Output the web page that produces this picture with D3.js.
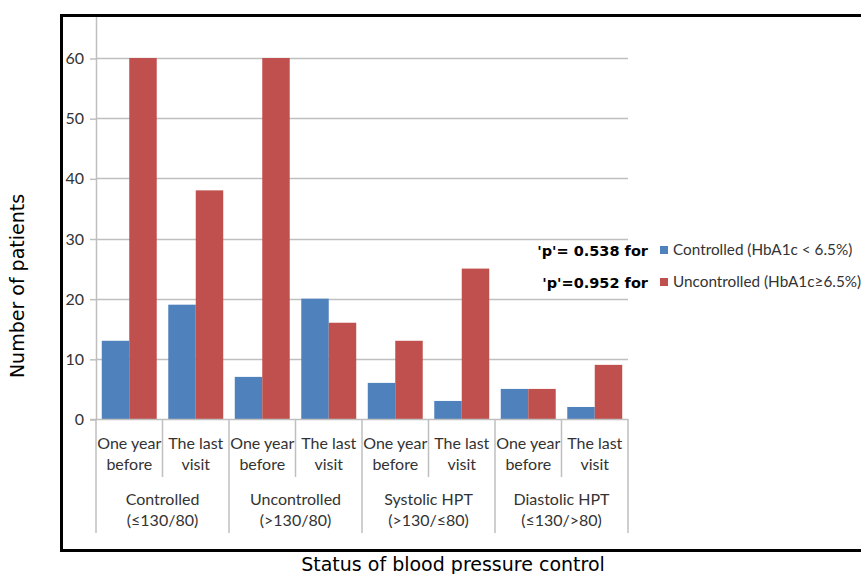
<!DOCTYPE html>
<html>
<head>
<meta charset="utf-8">
<script src="https://cdn.jsdelivr.net/npm/d3@7/dist/d3.min.js"></script>
<style>
  html, body { margin: 0; padding: 0; background: #fff; }
  svg { display: block; }
</style>
</head>
<body>
<svg id="chart" width="861" height="574"></svg>
<script>
// Patients by blood pressure status, at two time points
const groups = ["Controlled\n(≤130/80)", "Uncontrolled\n(>130/80)", "Systolic HPT\n(>130/≤80)", "Diastolic HPT\n(≤130/>80)"];
const periods = ["One year\nbefore", "The last\nvisit"];
const controlledHbA1c   = [13, 19, 7, 20, 6, 3, 5, 2];
const uncontrolledHbA1c = [60, 38, 60, 16, 13, 25, 5, 9];
const yTicks = [0, 10, 20, 30, 40, 50, 60];
const seriesNames = ["Controlled (HbA1c < 6.5%)", "Uncontrolled (HbA1c≥6.5%)"];
const pLabels = ["'p'= 0.538 for", "'p'=0.952 for"];
const colors = ["#4F81BD", "#C0504D"];

const svg = d3.select("#chart");
const plotLeft = 96, plotRight = 628, plotBottom = 419, plotTop = 17;

const slots = [];
groups.forEach((g, gi) => periods.forEach((p, pi) => slots.push({ key: gi + "-" + pi, g: gi, p: pi })));

const x = d3.scaleBand().domain(slots.map(d => d.key)).range([plotLeft, plotRight]).paddingInner(0).paddingOuter(0);
const y = d3.scaleLinear().domain([0, 60]).range([plotBottom, 58]);
const yMax = y.invert(plotTop);
y.domain([0, yMax]).range([plotBottom, plotTop]);
const inner = d3.scaleBand().domain([0, 1]).range([0, x.bandwidth()]).paddingInner(0).paddingOuter(0.21);

// Frame around the figure
svg.append("path")
  .attr("d", `M861,15.5 H61.5 V550.5 H861`)
  .attr("fill", "none").attr("stroke", "#000").attr("stroke-width", 3);

// Horizontal gridlines
svg.append("g").selectAll("line").data(yTicks.filter(t => t > 0)).join("line")
  .attr("x1", plotLeft).attr("x2", plotRight)
  .attr("y1", d => Math.round(y(d)) + 0.5).attr("y2", d => Math.round(y(d)) + 0.5)
  .attr("stroke", "#BFBFBF").attr("stroke-width", 1.5);

// Y axis
const yAxis = svg.append("g").attr("transform", `translate(${plotLeft},0)`)
  .call(d3.axisLeft(y).tickValues(yTicks).tickSize(6).tickPadding(4));
yAxis.select(".domain").attr("stroke", "#BFBFBF").attr("stroke-width", 1.5)
  .attr("d", `M0.5,${plotTop}V${plotBottom}`);
yAxis.selectAll(".tick line").attr("stroke", "#BFBFBF").attr("stroke-width", 1.5)
  .attr("transform", "translate(0,0.5)");
yAxis.selectAll(".tick text").attr("fill", "#333").attr("font-family", "Lato, 'Open Sans', sans-serif")
  .attr("font-size", 16).attr("x", -12).attr("dy", "0.35em");

// Bars
const bars = svg.append("g");
const seriesData = [controlledHbA1c, uncontrolledHbA1c];
seriesData.forEach((vals, si) => {
  bars.selectAll(null).data(slots).join("rect")
    .attr("x", d => x(d.key) + inner(si))
    .attr("width", inner.bandwidth())
    .attr("y", (d, i) => y(vals[i]))
    .attr("height", (d, i) => y(0) - y(vals[i]))
    .attr("fill", colors[si]);
});

// X axis baseline
svg.append("line").attr("x1", plotLeft - 6).attr("x2", plotRight)
  .attr("y1", plotBottom + 0.5).attr("y2", plotBottom + 0.5)
  .attr("stroke", "#BFBFBF").attr("stroke-width", 1.5);

// Category divider lines
const divs = slots.map(d => ({ x: x(d.key), major: d.p === 0 })).concat([{ x: plotRight, major: true }]);
svg.append("g").selectAll("line").data(divs).join("line")
  .attr("x1", d => d.x).attr("x2", d => d.x)
  .attr("y1", plotBottom).attr("y2", d => d.major ? 533 : 477)
  .attr("stroke", "#BFBFBF").attr("stroke-width", 1.5);

const labelFont = "Lato, 'Open Sans', sans-serif";
// Period labels
svg.append("g").selectAll("text").data(slots).join("text")
  .attr("y", 449)
  .attr("text-anchor", "middle").attr("font-family", labelFont).attr("font-size", 16).attr("fill", "#333")
  .each(function(d) {
    const cx = x(d.key) + x.bandwidth() / 2;
    d3.select(this).selectAll("tspan").data(periods[d.p].split("\n")).join("tspan")
      .attr("x", cx).attr("dy", (l, i) => i ? 21 : 0).text(l => l);
  });

// Group labels
svg.append("g").selectAll("text").data(groups).join("text")
  .attr("y", 505)
  .attr("text-anchor", "middle").attr("font-family", labelFont).attr("font-size", 16).attr("fill", "#333")
  .each(function(g, gi) {
    const cx = x(gi + "-0") + x.bandwidth();
    d3.select(this).selectAll("tspan").data(g.split("\n")).join("tspan")
      .attr("x", cx).attr("dy", (l, i) => i ? 21 : 0).text(l => l);
  });

// Axis titles
const titleFont = "'DejaVu Sans', Verdana, sans-serif";
svg.append("text").attr("x", 453).attr("y", 571).attr("text-anchor", "middle")
  .attr("font-family", titleFont).attr("font-size", 19).attr("fill", "#000")
  .text("Status of blood pressure control");
svg.append("text").attr("transform", "translate(24,286) rotate(-90)").attr("text-anchor", "middle")
  .attr("font-family", titleFont).attr("font-size", 19).attr("fill", "#000")
  .text("Number of patients");

// Legend with p-values
const legend = svg.append("g");
[250, 282].forEach((ly, i) => {
  legend.append("text").attr("x", 648).attr("y", ly + 6).attr("text-anchor", "end")
    .attr("font-family", titleFont).attr("font-weight", "bold").attr("font-size", 14.5).attr("fill", "#000")
    .text(pLabels[i]);
  legend.append("rect").attr("x", 660).attr("y", ly - 4).attr("width", 8).attr("height", 8).attr("fill", colors[i]);
  legend.append("text").attr("x", 673).attr("y", ly + 5)
    .attr("font-family", labelFont).attr("font-size", 15.3).attr("fill", "#333")
    .text(seriesNames[i]);
});
</script>
</body>
</html>
